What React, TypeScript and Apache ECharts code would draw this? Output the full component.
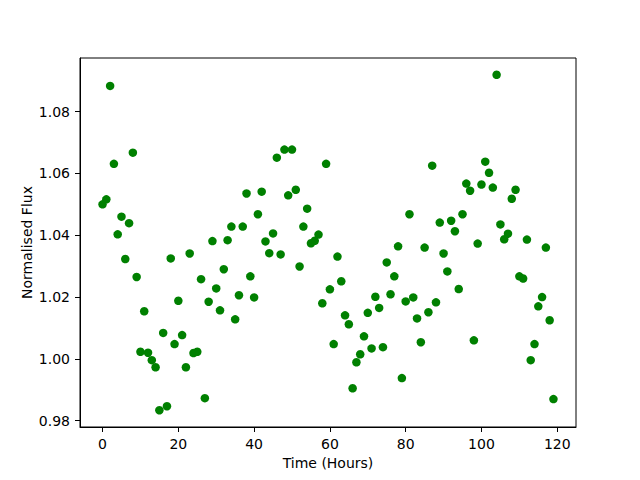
import React, { useEffect, useRef } from "react";
import * as echarts from "echarts";

const hours: number[] = [
  0, 1, 2, 3, 4, 5, 6, 7, 8, 9, 10, 11, 12, 13, 14, 15, 16, 17, 18, 19,
  20, 21, 22, 23, 24, 25, 26, 27, 28, 29, 30, 31, 32, 33, 34, 35, 36, 37, 38, 39,
  40, 41, 42, 43, 44, 45, 46, 47, 48, 49, 50, 51, 52, 53, 54, 55, 56, 57, 58, 59,
  60, 61, 62, 63, 64, 65, 66, 67, 68, 69, 70, 71, 72, 73, 74, 75, 76, 77, 78, 79,
  80, 81, 82, 83, 84, 85, 86, 87, 88, 89, 90, 91, 92, 93, 94, 95, 96, 97, 98, 99,
  100, 101, 102, 103, 104, 105, 106, 107, 108, 109, 110, 111, 112, 113, 114, 115, 116, 117, 118, 119,
];

const flux: number[] = [
  1.05, 1.0516, 1.0883, 1.0631, 1.0403, 1.046, 1.0323, 1.0439, 1.0667, 1.0265,
  1.0023, 1.0154, 1.002, 0.9996, 0.9973, 0.9834, 1.0084, 0.9847, 1.0325, 1.0048,
  1.0188, 1.0077, 0.9973, 1.0341, 1.0019, 1.0023, 1.0258, 0.9873, 1.0185, 1.0381,
  1.0228, 1.0157, 1.029, 1.0384, 1.0428, 1.0128, 1.0206, 1.0428, 1.0535, 1.0267,
  1.0199, 1.0468, 1.0541, 1.038, 1.0342, 1.0406, 1.0651, 1.0338, 1.0677, 1.0529,
  1.0677, 1.0547, 1.0299, 1.0428, 1.0486, 1.0374, 1.0382, 1.0402, 1.018, 1.0631,
  1.0225, 1.0048, 1.0331, 1.0251, 1.0141, 1.0112, 0.9905, 0.9989, 1.0015, 1.0073,
  1.0149, 1.0034, 1.0201, 1.0165, 1.0038, 1.0312, 1.0209, 1.0267, 1.0364, 0.9938,
  1.0186, 1.0468, 1.0199, 1.0131, 1.0054, 1.036, 1.0151, 1.0625, 1.0183, 1.0441,
  1.0341, 1.0283, 1.0447, 1.0413, 1.0226, 1.0468, 1.0567, 1.0544, 1.006, 1.0373,
  1.0564, 1.0638, 1.0602, 1.0554, 1.0919, 1.0435, 1.0387, 1.0405, 1.0518, 1.0547,
  1.0267, 1.026, 1.0386, 0.9996, 1.0048, 1.017, 1.02, 1.036, 1.0125, 0.987,
];

const xTicks: number[] = [0, 20, 40, 60, 80, 100, 120];
const yTicks: number[] = [0.98, 1.0, 1.02, 1.04, 1.06, 1.08];

const xLabel = "Time (Hours)";
const yLabel = "Normalised Flux";

function paddedRange(values: number[], frac: number): [number, number] {
  const lo = Math.min(...values);
  const hi = Math.max(...values);
  const pad = (hi - lo) * frac;
  return [lo - pad, hi + pad];
}

export default function App() {
  const ref = useRef<HTMLDivElement>(null);

  useEffect(() => {
    if (!ref.current) return;
    const chart = echarts.init(ref.current, undefined, { renderer: "svg" });
    const [xMin, xMax] = paddedRange(hours, 0.05);
    const [yMin, yMax] = paddedRange(flux, 0.05);
    const font = "DejaVu Sans";
    const axisCommon = {
      axisLine: { show: true, onZero: false, lineStyle: { color: "#000", width: 1 } },
      splitLine: { show: false },
    };
    chart.setOption({
      animation: false,
      backgroundColor: "#fff",
      textStyle: { fontFamily: font },
      grid: {
        left: 80,
        top: 58,
        width: 496,
        height: 369,
        show: true,
        borderColor: "#000",
        borderWidth: 1,
        backgroundColor: "#fff",
      },
      xAxis: {
        type: "value",
        min: xMin,
        max: xMax,
        ...axisCommon,
        axisTick: {
          show: true,
          inside: false,
          length: 5,
          customValues: xTicks,
          lineStyle: { color: "#000", width: 1 },
        },
        axisLabel: {
          customValues: xTicks,
          margin: 10,
          fontSize: 14,
          color: "#000",
          fontFamily: font,
          formatter: (v: number) => String(Math.round(v)),
        },
        name: xLabel,
        nameLocation: "middle",
        nameGap: 29,
        nameMoveOverlap: false,
        nameTextStyle: { fontSize: 14, color: "#000", fontFamily: font, verticalAlign: "top" },
      },
      yAxis: {
        type: "value",
        min: yMin,
        max: yMax,
        ...axisCommon,
        axisTick: {
          show: true,
          inside: false,
          length: 5,
          customValues: yTicks,
          lineStyle: { color: "#000", width: 1 },
        },
        axisLabel: {
          customValues: yTicks,
          margin: 10,
          fontSize: 14,
          color: "#000",
          fontFamily: font,
          formatter: (v: number) => v.toFixed(2),
        },
        name: yLabel,
        nameLocation: "middle",
        nameGap: 46,
        nameMoveOverlap: false,
        nameTextStyle: { fontSize: 14, color: "#000", fontFamily: font },
      },
      series: [
        {
          type: "scatter",
          data: hours.map((h, i) => [h, flux[i]]),
          symbol: "circle",
          symbolSize: 8.5,
          itemStyle: { color: "#008000", opacity: 1 },
          emphasis: { disabled: true },
        },
      ],
    });
    return () => chart.dispose();
  }, []);

  return (
    <div
      ref={ref}
      style={{ position: "fixed", left: 0, top: 0, width: 640, height: 480 }}
    />
  );
}
